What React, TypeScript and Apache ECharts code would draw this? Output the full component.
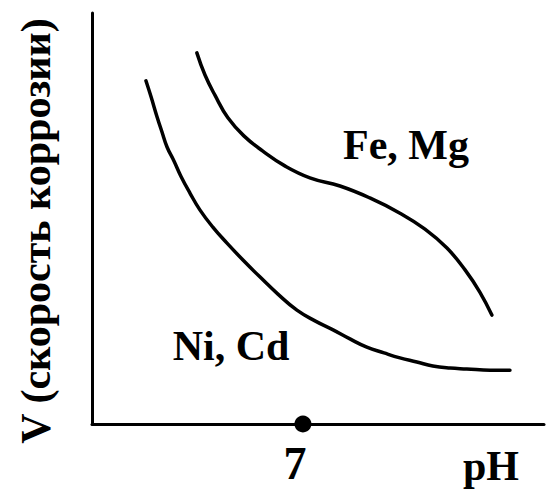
import React, { useEffect, useRef } from "react";
import * as echarts from "echarts";

// pH values and corrosion rate (arbitrary units)
const feMgPH = [3.48, 3.75, 4.08, 4.51, 5.04, 5.67, 6.4, 7.23, 8.23, 9.22, 10.22, 11.05, 11.78, 12.38, 12.87, 13.27];
const feMgV = [9.03, 8.49, 8.0, 7.45, 7.01, 6.64, 6.28, 5.99, 5.79, 5.5, 5.13, 4.74, 4.28, 3.75, 3.21, 2.65];

const niCdPH = [1.79, 1.96, 2.16, 2.32, 2.49, 2.72, 2.95, 3.25, 3.58, 4.01, 4.48, 5.01, 5.57, 6.17, 6.8, 7.4, 8.0, 8.56, 9.12, 9.69, 10.22, 10.78, 11.31, 11.88, 12.44, 13.21, 13.87];
const niCdV = [8.35, 7.96, 7.47, 7.11, 6.74, 6.4, 6.03, 5.62, 5.21, 4.79, 4.4, 3.99, 3.58, 3.16, 2.77, 2.51, 2.29, 2.07, 1.87, 1.73, 1.61, 1.51, 1.41, 1.36, 1.34, 1.31, 1.31];

const neutralPH = [7];
const xTickLabels = ["7"];
const seriesNames = ["Fe, Mg", "Ni, Cd"];
const yAxisTitle = "V (скорость коррозии)";
const xAxisTitle = "pH";

const FONT = "Liberation Serif";

export default function App() {
  const ref = useRef<HTMLDivElement>(null);

  useEffect(() => {
    if (!ref.current) return;
    const chart = echarts.init(ref.current, null, { renderer: "svg" });
    const zip = (xs: number[], ys: number[]) => xs.map((x, i) => [x, ys[i]]);
    const lineStyle = { color: "#000", width: 3.5, cap: "round" };
    chart.setOption({
      animation: false,
      backgroundColor: "#fff",
      grid: { left: 92, top: 13, right: 4, bottom: 67 },
      xAxis: {
        type: "value",
        min: 0,
        max: 15,
        splitLine: { show: false },
        axisTick: { show: false },
        axisLine: { show: true, lineStyle: { color: "#000", width: 3 } },
        axisLabel: {
          customValues: neutralPH,
          formatter: (v: number) => xTickLabels[neutralPH.indexOf(v)] ?? "",
          color: "#000",
          fontFamily: FONT,
          fontWeight: "bold",
          fontSize: 46,
          margin: 16,
          padding: [0, 16, 0, 0],
        },
      },
      yAxis: {
        type: "value",
        min: 0,
        max: 10,
        splitLine: { show: false },
        axisTick: { show: false },
        axisLabel: { show: false },
        axisLine: { show: true, lineStyle: { color: "#000", width: 3 } },
      },
      series: [
        {
          name: seriesNames[0],
          type: "line",
          smooth: 0.45,
          showSymbol: false,
          symbol: "none",
          lineStyle,
          data: zip(feMgPH, feMgV),
        },
        {
          name: seriesNames[1],
          type: "line",
          smooth: 0.45,
          showSymbol: false,
          symbol: "none",
          lineStyle,
          data: zip(niCdPH, niCdV),
        },
        {
          type: "scatter",
          symbol: "circle",
          symbolSize: 17,
          clip: false,
          z: 10,
          itemStyle: { color: "#000", opacity: 1 },
          data: neutralPH.map((p) => [p, 0]),
        },
      ],
      graphic: [
        {
          type: "text",
          x: 36,
          y: 231,
          rotation: Math.PI / 2,
          style: {
            text: yAxisTitle,
            fill: "#000",
            font: `bold 42px "${FONT}"`,
            align: "center",
            verticalAlign: "middle",
          },
        },
        {
          type: "text",
          x: 406,
          y: 145,
          style: {
            text: seriesNames[0],
            fill: "#000",
            font: `bold 42px "${FONT}"`,
            align: "center",
            verticalAlign: "middle",
          },
        },
        {
          type: "text",
          x: 231,
          y: 346,
          style: {
            text: seriesNames[1],
            fill: "#000",
            font: `bold 42px "${FONT}"`,
            align: "center",
            verticalAlign: "middle",
          },
        },
        {
          type: "text",
          x: 491,
          y: 466,
          style: {
            text: xAxisTitle,
            fill: "#000",
            font: `bold 42px "${FONT}"`,
            align: "center",
            verticalAlign: "middle",
          },
        },
      ],
    });
    return () => chart.dispose();
  }, []);

  return (
    <div
      ref={ref}
      style={{ position: "fixed", left: 0, top: 0, width: 548, height: 491 }}
    />
  );
}
